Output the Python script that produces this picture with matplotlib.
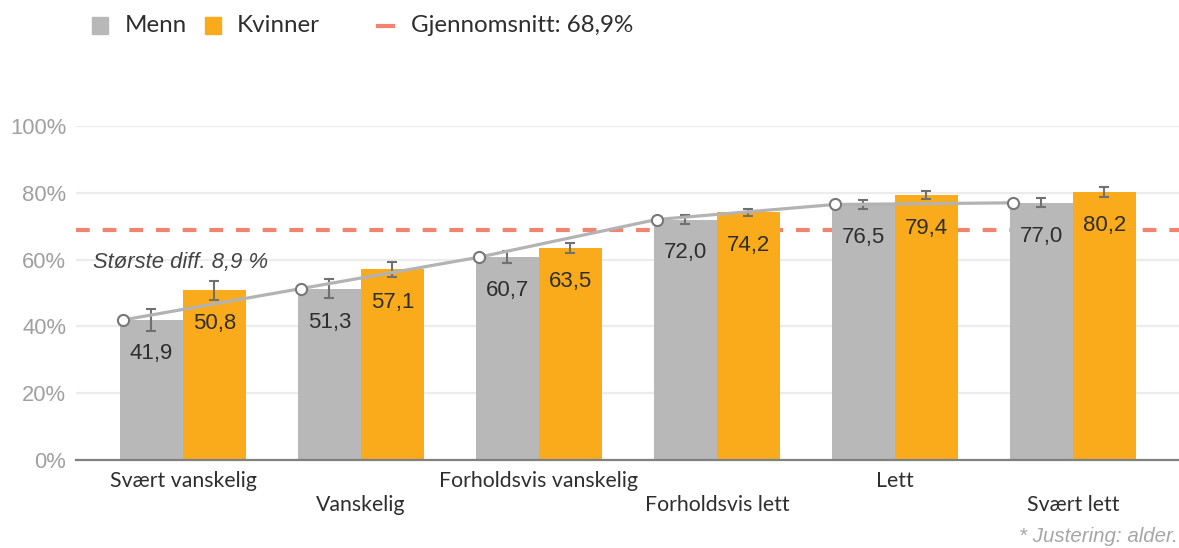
import matplotlib
matplotlib.use("Agg")
import matplotlib.pyplot as plt
from matplotlib.patches import Rectangle
from matplotlib.lines import Line2D
import numpy as np

GREY = "#b8b8b8"
ORANGE = "#f9ab1b"
LINE_GREY = "#b3b3b3"
AVG_RED = "#f2836f"
TEXT_DARK = "#2e2e2e"
TICK_GREY = "#a0a0a0"

categories = ["Svært vanskelig", "Vanskelig", "Forholdsvis vanskelig",
              "Forholdsvis lett", "Lett", "Svært lett"]
menn = [41.9, 51.3, 60.7, 72.0, 76.5, 77.0]
kvinner = [50.8, 57.1, 63.5, 74.2, 79.4, 80.2]
menn_err = [3.4, 2.75, 1.8, 1.25, 1.25, 1.4]
kvinner_err = [2.9, 2.25, 1.6, 1.0, 1.25, 1.5]
snitt = 68.9

W, H = 1179, 548
fig = plt.figure(figsize=(W / 100, H / 100), dpi=100)
ax = fig.add_axes([76 / W, 1 - 460 / H, (W - 76) / W, 334 / H])

x = np.arange(len(categories))
bw = 0.354

ax.bar(x - bw / 2, menn, bw, color=GREY, zorder=2)
ax.bar(x + bw / 2, kvinner, bw, color=ORANGE, zorder=2)
ax.errorbar(x - bw / 2, menn, yerr=menn_err, fmt="none", ecolor="#707070",
            elinewidth=1.5, capsize=3.5, capthick=1.5, zorder=3)
ax.errorbar(x + bw / 2, kvinner, yerr=kvinner_err, fmt="none", ecolor="#707070",
            elinewidth=1.5, capsize=3.5, capthick=1.5, zorder=3)

ax.axhline(snitt, color=AVG_RED, lw=3, dashes=(3.3, 3.1), zorder=1)

ax.plot(x - bw + 0.015, menn, color=LINE_GREY, lw=2.3, marker="o", ms=8,
        mfc="white", mec="#777777", mew=1.5, zorder=4)

for xi, v in zip(x, menn):
    ax.text(xi - bw / 2, v - 10, f"{v:.1f}".replace(".", ","), ha="center",
            va="center", fontsize=16, color=TEXT_DARK,
            family="Liberation Sans", zorder=5)
for xi, v in zip(x, kvinner):
    ax.text(xi + bw / 2, v - 10, f"{v:.1f}".replace(".", ","), ha="center",
            va="center", fontsize=16, color=TEXT_DARK,
            family="Liberation Sans", zorder=5)

ax.set_xlim(-0.601, 5.596)
ax.set_ylim(0, 100)
ax.set_yticks(range(0, 101, 20))
ax.set_yticklabels([f"{t}%" for t in range(0, 101, 20)], family="Liberation Sans",
                   fontsize=15.8, color=TICK_GREY)
ax.tick_params(axis="y", length=0, pad=7)
ax.set_xticks([])
ax.grid(axis="y", color="#ececec", lw=1.6, zorder=0)
ax.set_axisbelow(True)
for s in ["top", "right", "left"]:
    ax.spines[s].set_visible(False)
ax.spines["bottom"].set_color("#808080")
ax.spines["bottom"].set_linewidth(1.6)
ax.spines["bottom"].set_zorder(6)

# alternating category labels
trans = ax.get_xaxis_transform()
for i, lab in enumerate(categories):
    yy = -21 / 334 if i % 2 == 0 else -45 / 334
    ax.text(i, yy, lab, transform=trans, ha="center", va="center",
            family="Lato", fontsize=15.3, color=TEXT_DARK)

ax.text(-0.506, 59, "Største diff. 8,9 %", ha="left", va="center",
        family="Liberation Sans", style="italic", fontsize=15.8, color="#444444",
        zorder=5)

fig.text(1178 / W, 1 - 537 / H, "* Justering: alder.", ha="right", va="center",
         family="Liberation Sans", style="italic", fontsize=14.8, color="#a6a6a6")

# legend drawn by hand
def fx(px):
    return px / W

def fy(py):
    return 1 - py / H

ly = 25.5
fig.patches.append(Rectangle((fx(92), fy(34)), 16 / W, 17 / H, color=GREY,
                             transform=fig.transFigure, figure=fig))
fig.text(fx(125), fy(ly), "Menn", ha="left", va="center", family="Lato",
         fontsize=17.4, color=TEXT_DARK)
fig.patches.append(Rectangle((fx(205), fy(34)), 16 / W, 17 / H, color=ORANGE,
                             transform=fig.transFigure, figure=fig))
fig.text(fx(237), fy(ly), "Kvinner", ha="left", va="center", family="Lato",
         fontsize=17.4, color=TEXT_DARK)
fig.lines.append(Line2D([fx(378), fx(393)], [fy(ly), fy(ly)], color=AVG_RED,
                        lw=3, transform=fig.transFigure, figure=fig))
fig.text(fx(411), fy(ly), "Gjennomsnitt: 68,9%", ha="left", va="center",
         family="Lato", fontsize=17.4, color=TEXT_DARK)

fig.savefig("out.png", dpi=100)
